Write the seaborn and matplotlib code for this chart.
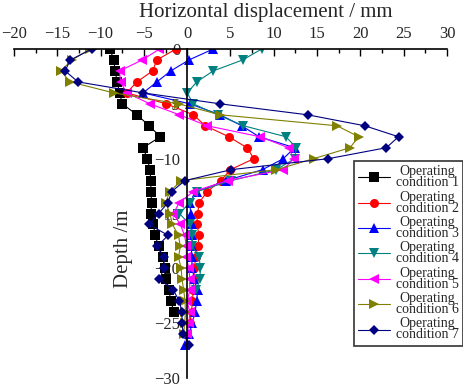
import pandas as pd
import numpy as np
import matplotlib
matplotlib.use('Agg')
import matplotlib.pyplot as plt
import seaborn as sns

# depth of the measuring points (m)
depth = [0, -1, -2, -3, -4, -5, -6, -7, -8, -9, -10, -11, -12, -13, -14,
         -15, -16, -17, -18, -19, -20, -21, -22, -23, -24, -25, -26, -27]

# horizontal displacement (mm) for each operating condition
cond_1 = [-8.9, -8.5, -8.3, -8.1, -7.8, -7.5, -5.8, -4.4, -3.1, -5.1, -4.6, -4.3, -4.2,
          -4.2, -4.1, -4.2, -3.9, -3.7, -3.3, -2.8, -2.6, -2.4, -2.1, -1.9, -1.5]
cond_2 = [-1.3, -3.5, -4.0, -5.8, -7.0, -2.4, 0.7, 2.1, 4.8, 6.9, 7.7, 5.0, 3.9,
          2.3, 1.4, 1.2, 1.1, 1.4, 1.2, 1.0, 0.8, 0.8, 0.7, 0.6, 0.5, 0.3]
cond_3 = [3.0, 0.2, -1.9, -3.5, -5.1, 0.3, 3.8, 6.3, 8.3, 12.4, 11.1, 8.7, 4.5,
          1.1, 0.3, 0.4, 0.5, 0.6, 0.5, 0.5, 0.6, 0.8, 1.2, 1.1, 0.9, 0.6, 0.2, -0.2]
cond_4 = [8.6, 6.4, 3.0, 1.1, 0.0, 0.7, 3.5, 6.5, 11.4, 12.6, 12.4, 10.3, 5.1,
          1.1, 0.3, -0.9, 0.3, 0.6, 0.6, 1.4, 1.5, 1.5, 1.0]
cond_5 = [-3.2, -5.2, -7.8, -7.7, -7.0, -4.3, -0.9, 2.3, 8.4, 11.7, 12.3, 11.1, 4.7,
          0.7, -0.9, -1.6, -0.8, -0.3, -0.1, -0.1, 0.2, 0.3, 0.3, 0.0, 0.3, 0.2, 0.0]
cond_6 = [-11.2, -13.3, -14.6, -13.5, -8.5, -1.0, 3.8, 17.3, 19.8, 18.8, 14.6, 10.3, -0.7,
          -2.0, -2.5, -2.0, -1.7, -1.0, -0.8, -1.0, -0.7, -0.6, -0.4, -0.25, -0.2, -0.3, -0.4]
cond_7 = [-11.0, -13.5, -14.1, -12.6, -5.1, 3.8, 13.9, 20.5, 24.4, 23.0, 16.3, 5.1, -0.25,
          -1.8, -2.2, -3.3, -4.4, -2.2, -3.5, -2.7, -2.7, -3.2, -1.6, -0.9, -0.6, -0.6, -0.45, 0.25]

labels = ['Operating\ncondition ' + str(i) for i in range(1, 8)]
colors = ['#000000', '#ff0000', '#0000ff', '#008080', '#ff00ff', '#808000', '#000080']
markers = ['s', 'o', '^', 'v', '<', '>', 'D']

series = [cond_1, cond_2, cond_3, cond_4, cond_5, cond_6, cond_7]
frames = []
for lab, vals in zip(labels, series):
    frames.append(pd.DataFrame({'disp': vals, 'depth': depth[:len(vals)], 'cond': lab}))
df = pd.concat(frames, ignore_index=True)

sns.set_style('white')
plt.rcParams['font.family'] = ['Liberation Serif', 'DejaVu Serif']

fig = plt.figure(figsize=(4.64, 3.87), dpi=100)
ax = fig.add_axes([14 / 464, 9 / 387, 433 / 464, 329 / 387])

for lab, col, mk in zip(labels, colors, markers):
    sub = df[df['cond'] == lab]
    ms = 5.5 if mk == 'D' else 6.5
    sns.lineplot(data=sub, x='disp', y='depth', sort=False, estimator=None, ax=ax,
                 color=col, marker=mk, markersize=ms, markeredgewidth=0,
                 linewidth=0.8, label=lab)

ax.set_xlim(-20, 30)
ax.set_ylim(-30, 0)

# axes layout: x axis on top, y axis through x = 0
ax.spines['bottom'].set_visible(False)
ax.spines['right'].set_visible(False)
ax.spines['left'].set_position(('data', 0))
for s in ['top', 'left']:
    ax.spines[s].set_color('black')
    ax.spines[s].set_linewidth(1.2)
ax.xaxis.tick_top()
ax.xaxis.set_label_position('top')

ax.set_xticks(np.arange(-20, 31, 5))
ax.set_xticks(np.arange(-17.5, 30, 5), minor=True)
ax.set_yticks(np.arange(-30, 1, 5))
ax.set_yticks(np.arange(-27.5, 0, 5), minor=True)
ax.tick_params(axis='both', which='major', direction='in', length=5, width=1.0,
               labelsize=12, color='black')
ax.tick_params(axis='both', which='minor', direction='in', length=3, width=1.0, color='black')
ax.tick_params(axis='x', pad=5)
ax.tick_params(axis='y', pad=5)
ax.grid(False)

ax.set_xlabel('Horizontal displacement / mm', fontsize=15)
ax.xaxis.label.set_va('center')
ax.xaxis.set_label_coords(0.582, 1.112)
ax.set_ylabel('Depth /m', fontsize=15)
ax.yaxis.label.set_va('center')
ax.yaxis.set_label_coords(0.252, 0.392)

leg = ax.legend(loc='upper left', bbox_to_anchor=(354 / 464, 1 - 161 / 387),
                bbox_transform=fig.transFigure, fontsize=10, frameon=True,
                fancybox=False, edgecolor='black', handlelength=2.3,
                handletextpad=0.4, labelspacing=0.1, borderpad=0.3,
                borderaxespad=0)
leg.get_frame().set_linewidth(1.2)
for t in leg.get_texts():
    t.set_multialignment('center')
    t.set_linespacing(0.8)

fig.savefig('out.png', dpi=100)
